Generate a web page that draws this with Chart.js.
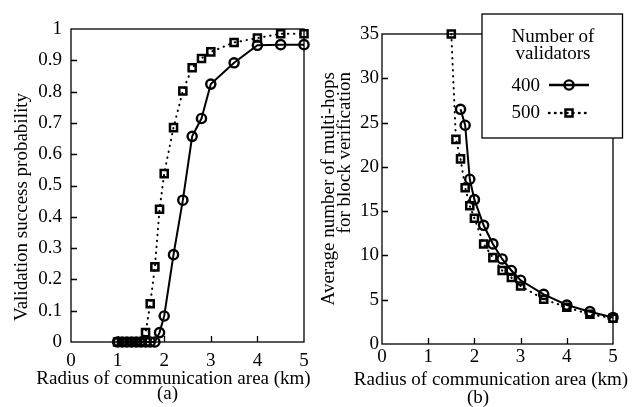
<!DOCTYPE html>
<html>
<head>
<meta charset="utf-8">
<title>Validation success probability and multi-hops</title>
<script src="https://cdn.jsdelivr.net/npm/chart.js@4/dist/chart.umd.min.js"></script>
<style>
  html, body { margin: 0; padding: 0; background: #fff; }
  #wrap { position: relative; width: 634px; height: 407px; }
  canvas { position: absolute; left: 0; top: 0; }
</style>
</head>
<body>
<div id="wrap">
  <canvas id="chartA" width="634" height="407"></canvas>
  <canvas id="chartB" width="634" height="407"></canvas>
</div>
<script>
// ── Data ──────────────────────────────────────────────────────────────────────

// (a) validation success probability vs. radius
const radiusA400 = [1.0, 1.1, 1.2, 1.3, 1.4, 1.5, 1.6, 1.7, 1.8, 1.9, 2.0, 2.2, 2.4, 2.6, 2.8, 3.0, 3.5, 4.0, 4.5, 5.0];
const successA400 = [0, 0, 0, 0, 0, 0, 0, 0, 0, 0.03, 0.083, 0.279, 0.453, 0.657, 0.714, 0.824, 0.892, 0.948, 0.95, 0.95];
const radiusA500 = [1.0, 1.1, 1.2, 1.3, 1.4, 1.5, 1.6, 1.7, 1.8, 1.9, 2.0, 2.2, 2.4, 2.6, 2.8, 3.0, 3.5, 4.0, 4.5, 5.0];
const successA500 = [0, 0, 0, 0, 0, 0, 0.03, 0.122, 0.24, 0.424, 0.538, 0.685, 0.802, 0.876, 0.906, 0.927, 0.957, 0.971, 0.985, 0.985];

// (b) average number of multi-hops vs. radius
const radiusB400 = [1.7, 1.8, 1.9, 2.0, 2.2, 2.4, 2.6, 2.8, 3.0, 3.5, 4.0, 4.5, 5.0];
const hopsB400 = [26.5, 24.7, 18.6, 16.3, 13.4, 11.3, 9.6, 8.3, 7.2, 5.6, 4.4, 3.65, 3.0];
const radiusB500 = [1.5, 1.6, 1.7, 1.8, 1.9, 2.0, 2.2, 2.4, 2.6, 2.8, 3.0, 3.5, 4.0, 4.5, 5.0];
const hopsB500 = [35, 23.1, 20.9, 17.65, 15.6, 14.2, 11.3, 9.75, 8.3, 7.5, 6.55, 5.05, 4.15, 3.35, 2.9];

const seriesLabels = ["400", "500"];
const legendTitle = ["Number of", "validators"];
const xTitle = "Radius of communication area (km)";
const yTitleA = "Validation success probability";
const yTitleB = ["Average number of multi-hops", "for block verification"];

// ── Shared style ──────────────────────────────────────────────────────────────

const FONT = "'Liberation Serif', 'Times New Roman', serif";
Chart.defaults.font.family = FONT;
Chart.defaults.font.size = 19;
Chart.defaults.color = "#000";

const zip = (xs, ys) => xs.map((x, i) => ({ x, y: ys[i] }));

function solidSet(label, data) {
  return {
    label, data,
    borderColor: "#000", borderWidth: 2,
    pointStyle: "circle", pointRadius: 4.6, pointBorderWidth: 2.4,
    pointBackgroundColor: "rgba(0,0,0,0)", pointBorderColor: "#000",
    tension: 0, clip: false,
  };
}

function dottedSet(label, data) {
  return {
    label, data,
    borderColor: "#000", borderWidth: 2,
    borderDash: [0.5, 5.5], borderCapStyle: "round",
    pointStyle: "rect", pointRadius: 5, pointBorderWidth: 2.5,
    pointBackgroundColor: "rgba(0,0,0,0)", pointBorderColor: "#000",
    tension: 0, clip: false,
  };
}

// Box round the plot, inward ticks, and titles at fixed spots.
function decor(cfg) {
  return {
    id: "decor",
    beforeDatasetsDraw(chart) {
      const { ctx, chartArea: a, scales: { x, y } } = chart;
      ctx.save();
      ctx.strokeStyle = "#000";
      ctx.lineWidth = 1.3;
      ctx.strokeRect(a.left, a.top, a.right - a.left, a.bottom - a.top);
      ctx.beginPath();
      x.ticks.forEach((t) => {
        if (t.value <= x.min || t.value >= x.max) return;
        const px = Math.round(x.getPixelForValue(t.value)) + 0.5;
        ctx.moveTo(px, a.bottom);
        ctx.lineTo(px, a.bottom - 6);
      });
      y.ticks.forEach((t) => {
        if (t.value <= y.min || t.value >= y.max) return;
        const py = Math.round(y.getPixelForValue(t.value)) + 0.5;
        ctx.moveTo(a.left, py);
        ctx.lineTo(a.left + 6, py);
      });
      ctx.stroke();
      ctx.restore();
    },
    afterDraw(chart) {
      const ctx = chart.ctx;
      ctx.save();
      ctx.fillStyle = "#000";
      ctx.font = `19px ${FONT}`;
      ctx.textBaseline = "alphabetic";
      ctx.textAlign = "center";
      ctx.fillText(xTitle, cfg.xTitleX, cfg.xTitleY);
      ctx.fillText(cfg.caption, cfg.captionX, cfg.captionY);
      // rotated y title
      cfg.yLines.forEach((line, i) => {
        ctx.save();
        ctx.translate(cfg.yTitleX[i], cfg.yTitleY);
        ctx.rotate(-Math.PI / 2);
        ctx.textAlign = cfg.yAlign;
        ctx.fillText(line, 0, 0);
        ctx.restore();
      });
      ctx.restore();
    },
  };
}

// Legend box with line + marker samples, drawn over the plot corner.
const boxLegend = {
  id: "boxLegend",
  afterDraw(chart) {
    const ctx = chart.ctx;
    const sets = chart.data.datasets;
    ctx.save();
    ctx.fillStyle = "#fff";
    ctx.strokeStyle = "#000";
    ctx.lineWidth = 1.3;
    ctx.fillRect(482, 14, 140.5, 124);
    ctx.strokeRect(482, 14, 140.5, 124);

    ctx.fillStyle = "#000";
    ctx.font = `19px ${FONT}`;
    ctx.textAlign = "center";
    ctx.textBaseline = "alphabetic";
    ctx.fillText(legendTitle[0], 553, 41.5);
    ctx.fillText(legendTitle[1], 553, 58.5);

    const rows = [{ base: 91, mid: 85 }, { base: 117.5, mid: 113 }];
    sets.forEach((ds, i) => {
      const r = rows[i];
      ctx.textAlign = "left";
      ctx.fillText(ds.label, 511.5, r.base);
      ctx.beginPath();
      ctx.setLineDash(ds.borderDash || []);
      ctx.lineCap = ds.borderCapStyle || "butt";
      ctx.lineWidth = ds.borderWidth + 0.5;
      ctx.moveTo(549, r.mid);
      ctx.lineTo(589, r.mid);
      ctx.stroke();
      ctx.setLineDash([]);
      ctx.lineWidth = ds.pointBorderWidth;
      ctx.beginPath();
      if (ds.pointStyle === "circle") {
        ctx.arc(569, r.mid, ds.pointRadius, 0, Math.PI * 2);
      } else {
        const s = ds.pointRadius * Math.SQRT1_2;
        ctx.rect(569 - s, r.mid - s, 2 * s, 2 * s);
      }
      ctx.stroke();
    });
    ctx.restore();
  },
};

const tickText = (v) => String(Number(v.toFixed(2)));

function axes(yMax, yStep, xPad, yPad, yWidth, xHeight) {
  return {
    x: {
      type: "linear", min: 0, max: 5,
      ticks: { stepSize: 1, padding: xPad, callback: tickText },
      grid: { display: false, drawTicks: false },
      border: { display: false },
      afterFit: (s) => { s.height = xHeight; },
    },
    y: {
      type: "linear", min: 0, max: yMax,
      ticks: { stepSize: yStep, padding: yPad, callback: tickText },
      grid: { display: false, drawTicks: false },
      border: { display: false },
      afterFit: (s) => { s.width = yWidth; },
    },
  };
}

// ── (a) ───────────────────────────────────────────────────────────────────────

new Chart(document.getElementById("chartA"), {
  type: "line",
  data: {
    datasets: [
      solidSet(seriesLabels[0], zip(radiusA400, successA400)),
      dottedSet(seriesLabels[1], zip(radiusA500, successA500)),
    ],
  },
  options: {
    responsive: false,
    animation: false,
    devicePixelRatio: 1,
    layout: { padding: { left: 0, right: 330, top: 29, bottom: 0 } },
    plugins: { legend: { display: false }, tooltip: { enabled: false } },
    scales: axes(1, 0.1, 8, 9, 71, 65),
  },
  plugins: [decor({
    xTitleX: 173.5, xTitleY: 384,
    caption: "(a)", captionX: 167.5, captionY: 399,
    yLines: [yTitleA], yTitleX: [27], yTitleY: 207, yAlign: "center",
  })],
});

// ── (b) ───────────────────────────────────────────────────────────────────────

new Chart(document.getElementById("chartB"), {
  type: "line",
  data: {
    datasets: [
      solidSet(seriesLabels[0], zip(radiusB400, hopsB400)),
      dottedSet(seriesLabels[1], zip(radiusB500, hopsB500)),
    ],
  },
  options: {
    responsive: false,
    animation: false,
    devicePixelRatio: 1,
    layout: { padding: { left: 320, right: 21, top: 34, bottom: 0 } },
    plugins: { legend: { display: false }, tooltip: { enabled: false } },
    scales: axes(35, 5, 2, 3, 62, 63),
  },
  plugins: [decor({
    xTitleX: 491, xTitleY: 385,
    caption: "(b)", captionX: 478, captionY: 403,
    yLines: yTitleB, yTitleX: [334, 350], yTitleY: 72, yAlign: "right",
  }), boxLegend],
});
</script>
</body>
</html>
